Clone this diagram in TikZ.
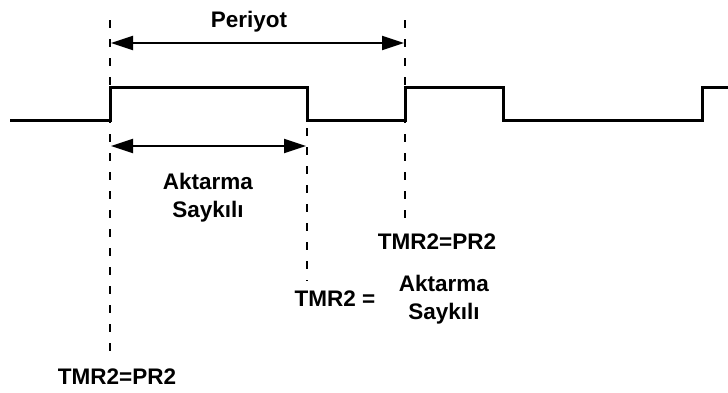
\documentclass[tikz,border=0pt]{standalone}
\usepackage{fontspec}
\setmainfont{Liberation Sans}
\usetikzlibrary{arrows.meta}
\begin{document}
\begin{tikzpicture}[x=1pt,y=-1pt,
  sig/.style={line width=3pt,line join=miter},
  guide/.style={line width=2.4pt,dash pattern=on 8pt off 11pt},
  dimarrow/.style={line width=2.2pt,{Triangle[length=22pt,width=14pt]}-{Triangle[length=22pt,width=14pt]}},
  lbl/.style={font=\fontsize{22.5}{28}\selectfont\bfseries,align=center,inner sep=0pt}]
\useasboundingbox[fill=white] (0,0) rectangle (728,392);
% signal
\coordinate (s0) at (10,120);
\coordinate (s1) at (110,120);
\coordinate (s2) at (110,87);
\coordinate (s3) at (307,87);
\coordinate (s4) at (307,120);
\coordinate (s5) at (405,120);
\coordinate (s6) at (405,87);
\coordinate (s7) at (503,87);
\coordinate (s8) at (503,120);
\coordinate (s9) at (702,120);
\coordinate (s10) at (702,87);
\coordinate (s11) at (728,87);
\draw[sig] (s0) -- (s1) -- (s2) -- (s3) -- (s4) -- (s5) -- (s6) -- (s7) -- (s8) -- (s9) -- (s10) -- (s11);
% guide lines
\coordinate (g1a) at (110,20);
\coordinate (g1b) at (110,354);
\coordinate (g2a) at (307,128);
\coordinate (g2b) at (307,281);
\coordinate (g3a) at (405,20);
\coordinate (g3b) at (405,226);
\draw[guide] (g1a) -- (g1b);
\draw[guide] (g2a) -- (g2b);
\draw[guide] (g3a) -- (g3b);
% dimension arrows
\coordinate (pa) at (111,43);
\coordinate (pb) at (404,43);
\draw[dimarrow] (pa) -- (pb);
\coordinate (aa) at (111,146);
\coordinate (ab) at (306,146);
\draw[dimarrow] (aa) -- (ab);
% labels
\node[lbl] (periyot) at (249,22) {Periyot};
\node[lbl] (aktarma) at (208,198) {Aktarma\\Sayk\i l\i};
\node[lbl] (tmrpr1) at (437,242) {TMR2=PR2};
\node[lbl] (tmreq) at (335,299) {TMR2 =};
\node[lbl] (aktarma2) at (444,300) {Aktarma\\Sayk\i l\i};
\node[lbl] (tmrpr2) at (117,377) {TMR2=PR2};
\end{tikzpicture}
\end{document}
